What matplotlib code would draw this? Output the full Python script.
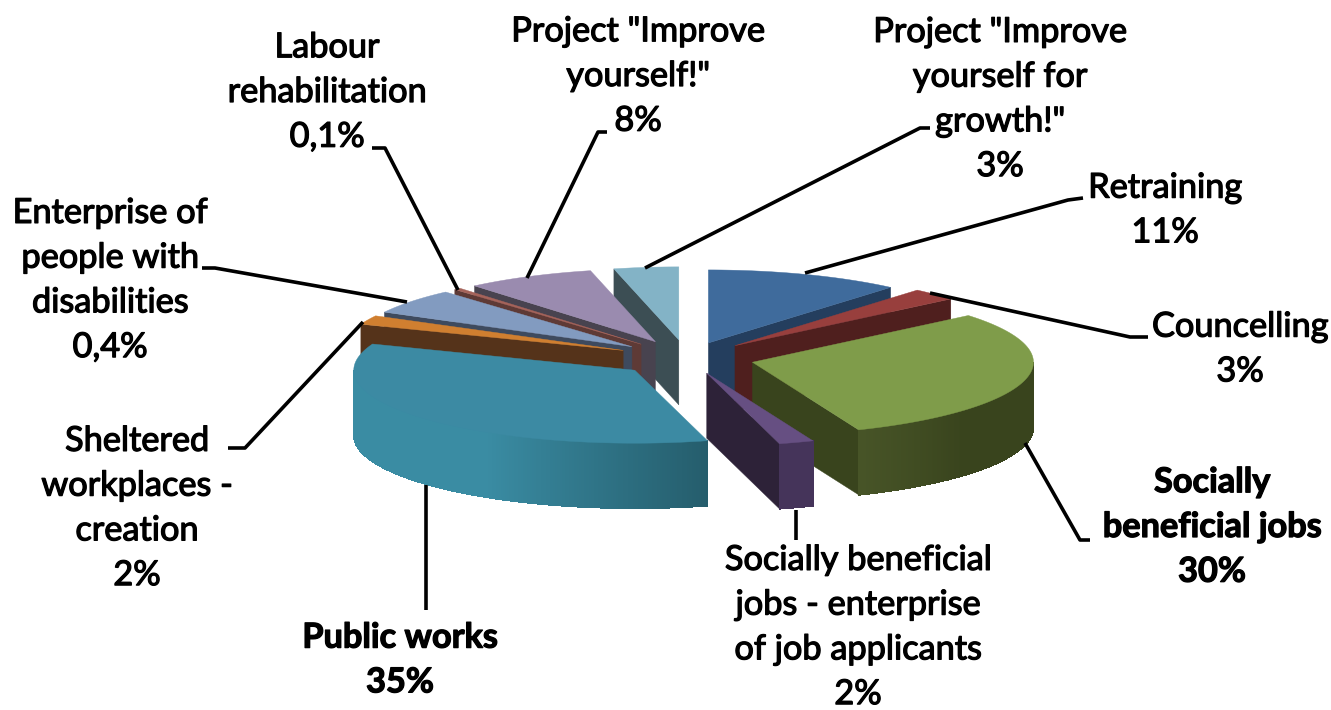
import numpy as np
import matplotlib
matplotlib.use("Agg")
import matplotlib.pyplot as plt
import matplotlib.patheffects as pe
from matplotlib.colors import to_rgb
from matplotlib.patches import Polygon

# --- Dados ---
NOMES = ["Retraining", "Councelling", "Socially\nbeneficial jobs",
         "Socially beneficial\njobs - enterprise\nof job applicants",
         "Public works", "Sheltered\nworkplaces -\ncreation",
         "Enterprise of\npeople with\ndisabilities", "Labour\nrehabilitation",
         "Project \"Improve\nyourself!\"",
         "Project \"Improve\nyourself for\ngrowth!\""]
ROTULOS = ["11%", "3%", "30%", "2%", "35%", "2%", "0,4%", "0,1%", "8%", "3%"]
# fatia desenhada (nao bate com os rotulos em duas fatias)
FATIAS = [11.2, 2.7, 29.8, 2.0, 34.9, 2.0, 5.6, 0.4, 7.4, 3.7]
DESTAQUE = [2, 4]

# --- Estilo ---
COR_TOPO = ["#3F6B9C", "#983F3D", "#7F9C4A", "#664F82", "#3C8AA3",
            "#D07F30", "#829BC0", "#A5635A", "#9A8BAF", "#83B3C6"]
COR_LADO = ["#243E5E", "#4F1F1E", "#39441D", "#2D2238", "#2F7287",
            "#55331A", "#3E4A5E", "#5E3A36", "#48434F", "#3C4E54"]
EXPLODE = [0.22, 0.24, 0.24, 0.22, 0.25, 0.25, 0.25, 0.25, 0.25, 0.25]
ORDEM = [0, 9, 8, 7, 6, 5, 1, 2, 4, 3]  # de tras para frente

CX, CY = 687, 358
RX, RY = 281, 73
ALTURA = 65

# centro do bloco de texto de cada rotulo
POS_TEXTO = [(1165, 210), (1240, 349), (1212, 527), (858, 627), (400, 660),
             (137, 508), (110, 280), (327, 92), (638, 76), (1000, 99)]
LIDERES = [
    [(1083, 198), (1068, 200), (805, 273)],
    [(1148, 337), (1130, 337), (930, 293)],
    [(1090, 540), (1080, 540), (1025, 443)],
    [(796, 510), (796, 540)],
    [(426, 485), (426, 610)],
    [(228, 448), (245, 448), (363, 322)],
    [(202, 268), (215, 268), (407, 302)],
    [(372, 148), (385, 148), (458, 290)],
    [(607, 132), (598, 132), (527, 278)],
    [(930, 128), (920, 128), (645, 268)],
]


def ponto(ax0, ay0, t):
    """Ponto da borda da elipse, t em graus no sentido horario a partir do topo."""
    r = np.radians(t)
    return ax0 + RX * np.sin(r), ay0 - RY * np.cos(r)


def tom_parede(i, t):
    """Cor da parede curva: as fatias grandes tem gradiente."""
    base = np.array(to_rgb(COR_LADO[i]))
    if i == 4:
        claro = np.array(to_rgb("#3A8CA3"))
        escuro = np.array(to_rgb("#255D6C"))
        f = np.clip((212 - t) / 47.0, 0, 1)
        return claro + (escuro - claro) * f
    if i == 2:
        claro = np.array(to_rgb("#475427"))
        return claro + (base - claro) * np.clip((157 - t) / 25.0, 0, 1)
    if i == 3:
        return np.array(to_rgb("#45345A"))
    return base


def desenha_fatia(ax, i, t0, t1):
    meio = np.radians((t0 + t1) / 2)
    ax0 = CX + EXPLODE[i] * RX * np.sin(meio)
    ay0 = CY - EXPLODE[i] * RY * np.cos(meio)
    ts = np.linspace(t0, t1, max(int(t1 - t0) * 2, 3))
    xs, ys = ponto(ax0, ay0, ts)

    # faces de corte visiveis, por cima das escondidas
    p0 = ponto(ax0, ay0, t0)
    p1 = ponto(ax0, ay0, t1)
    for p, vis in ((p0, np.sin(np.radians(t0)) < 0),
                   (p1, np.sin(np.radians(t1)) > 0)):
        if vis:
            ax.add_patch(Polygon([(ax0, ay0), p, (p[0], p[1] + ALTURA),
                                  (ax0, ay0 + ALTURA)], closed=True,
                                 fc=COR_LADO[i], ec=COR_LADO[i], lw=0.3))

    # parede curva, so a parte da frente
    for k in range(len(ts) - 1):
        tm = (ts[k] + ts[k + 1]) / 2
        if 90 < tm < 270:
            c = tom_parede(i, tm)
            ax.add_patch(Polygon([(xs[k], ys[k]), (xs[k + 1], ys[k + 1]),
                                  (xs[k + 1], ys[k + 1] + ALTURA), (xs[k], ys[k] + ALTURA)],
                                 closed=True, fc=c, ec=c, lw=0.5, antialiased=False))

    ax.add_patch(Polygon(list(zip(xs, ys)) + [(ax0, ay0)], closed=True,
                         fc=COR_TOPO[i], ec=COR_TOPO[i], lw=0.3))


fig = plt.figure(figsize=(13.31, 7.10), dpi=100)
ax = fig.add_axes([0, 0, 1, 1])
ax.set_xlim(0, 1331)
ax.set_ylim(710, 0)
ax.axis("off")

limites = np.concatenate([[0], np.cumsum(FATIAS)]) / sum(FATIAS) * 360
for n, i in enumerate(ORDEM):
    zo = len(ax.patches)
    desenha_fatia(ax, i, limites[i], limites[i + 1])
    # mantem a ordem de pintura entre fatias
    for p in ax.patches[zo:]:
        p.set_zorder(2 + n)

for caminho in LIDERES:
    xs, ys = zip(*caminho)
    ax.plot(xs, ys, color="black", lw=2.6, zorder=20, solid_capstyle="butt")

for i, (nome, rot) in enumerate(zip(NOMES, ROTULOS)):
    peso = "bold" if i in DESTAQUE else "normal"
    ax.text(POS_TEXTO[i][0], POS_TEXTO[i][1], nome + "\n" + rot, ha="center", va="center",
            family="Lato", fontsize=24.7, fontweight=peso, linespacing=1.49, color="black",
            zorder=30, path_effects=[pe.withStroke(linewidth=0.9, foreground="black")])

fig.savefig("out.png", dpi=100)
plt.close()
